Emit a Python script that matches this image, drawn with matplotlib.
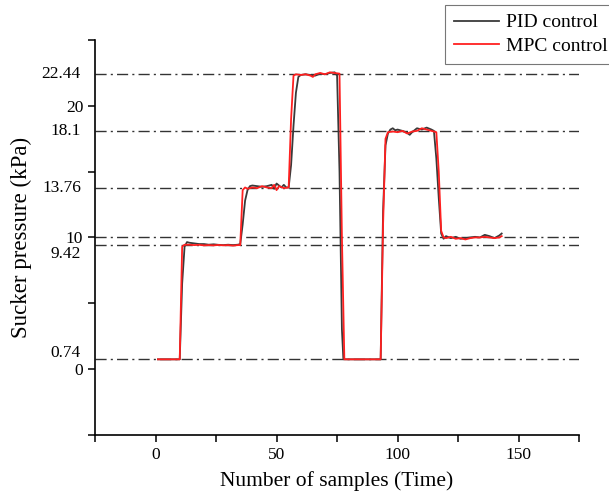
import matplotlib
matplotlib.use('Agg')
import matplotlib.pyplot as plt
from matplotlib.ticker import MultipleLocator

# sample index / pressure (kPa)
pid_t = [1, 10, 11, 12, 13, 14, 16, 18, 20, 22, 24, 26, 28, 30, 32, 34, 35, 36, 37, 38, 39, 40, 42, 44, 46, 48,
         49, 50, 52, 53, 54, 55, 56, 57, 58, 59, 60, 62, 64, 66, 68, 70, 72, 74, 75, 76, 77, 77.6, 80, 93, 94, 95,
         96, 97, 98, 99, 100, 102, 104, 105, 106, 108, 110, 112, 114, 115, 116, 117, 118, 119, 120, 122, 124,
         126, 128, 130, 132, 134, 136, 138, 140, 142, 143]
pid_y = [0.74, 0.74, 6.5, 9.3, 9.65, 9.6, 9.55, 9.5, 9.5, 9.45, 9.48, 9.44, 9.42, 9.45, 9.42, 9.45, 9.5, 11.0,
         12.8, 13.6, 13.9, 13.95, 13.9, 13.85, 13.9, 14.0, 13.7, 14.1, 13.8, 14.0, 13.8, 13.8, 15.5, 18.5, 21.0,
         22.2, 22.35, 22.4, 22.35, 22.3, 22.45, 22.4, 22.5, 22.55, 22.3, 15.0, 3.0, 0.74, 0.74, 0.74, 12.0, 17.0,
         17.9, 18.2, 18.3, 18.15, 18.2, 18.1, 17.95, 17.8, 18.0, 18.3, 18.2, 18.35, 18.2, 18.1, 16.0, 13.0, 10.3,
         9.9, 10.1, 9.95, 10.05, 9.9, 9.95, 10.0, 10.05, 10.0, 10.2, 10.1, 9.95, 10.15, 10.3]

mpc_t = [1, 10, 11, 12, 14, 16, 18, 20, 22, 24, 26, 28, 30, 32, 34, 35, 36, 37, 38, 40, 42, 44, 46, 48, 49, 50,
         51, 53, 55, 56, 57, 58, 60, 62, 64, 65, 66, 68, 70, 72, 74, 76, 77, 78, 80, 93, 94, 95, 96, 98, 100, 102,
         104, 106, 108, 110, 112, 114, 116, 117, 118, 119, 120, 122, 124, 126, 128, 130, 132, 134, 136, 138, 140,
         142, 143]
mpc_y = [0.74, 0.74, 9.3, 9.45, 9.45, 9.42, 9.44, 9.4, 9.42, 9.4, 9.43, 9.4, 9.42, 9.38, 9.42, 9.42, 13.6,
         13.8, 13.7, 13.8, 13.75, 13.9, 13.8, 13.75, 14.0, 13.6, 13.9, 13.75, 13.8, 19.0, 22.3, 22.4, 22.35, 22.4,
         22.3, 22.2, 22.4, 22.5, 22.4, 22.55, 22.5, 22.45, 10.0, 0.74, 0.74, 0.74, 11.0, 17.5, 18.0, 18.05, 18.0,
         18.1, 17.9, 18.05, 18.1, 18.3, 18.2, 18.1, 18.0, 15.0, 10.5, 10.0, 9.95, 10.05, 9.9, 9.95, 9.85, 9.95,
         10.0, 10.0, 10.05, 10.0, 9.95, 10.0, 10.1]

ref_levels = [22.44, 18.1, 13.76, 10, 9.42, 0.74]
extra_labels = ['22.44', '18.1', '13.76', '9.42', '0.74']
extra_vals = [22.44, 18.1, 13.76, 9.42, 0.74]
extra_offsets = [0, 0, 0, -0.7, 0.5]

plt.rcParams['font.family'] = 'Liberation Serif'

fig = plt.figure(figsize=(6.09, 5.01), dpi=100)
ax = fig.add_axes([0.156, 0.132, 0.795, 0.788])

for lv in ref_levels:
    ax.axhline(lv, color='#333333', lw=1.0, ls=(0, (8, 3, 1.5, 3)), zorder=1)

ax.plot(pid_t, pid_y, color='#3a3a3a', lw=1.3, label='PID control', zorder=2)
ax.plot(mpc_t, mpc_y, color='#ff2020', lw=1.3, label='MPC control', zorder=3)

ax.set_xlim(-25, 175)
ax.set_ylim(-5, 25)
ax.xaxis.set_major_locator(MultipleLocator(50))
ax.xaxis.set_minor_locator(MultipleLocator(25))
ax.set_yticks([0, 10, 20])
ax.set_yticks([-5, 5, 15, 25], minor=True)
ax.tick_params(which='both', direction='out', length=5, width=1.1, labelsize=12.5)

for lab, v, off in zip(extra_labels, extra_vals, extra_offsets):
    ax.text(-0.029, v + off, lab, transform=ax.get_yaxis_transform(), ha='right', va='center', fontsize=12.5)

for s in ['top', 'right']:
    ax.spines[s].set_visible(False)
for s in ['left', 'bottom']:
    ax.spines[s].set_linewidth(1.2)

ax.set_xlabel('Number of samples (Time)', fontsize=15.5, labelpad=6)
ax.set_ylabel('Sucker pressure (kPa)', fontsize=16.5, labelpad=24)

leg = fig.legend(loc='upper left', bbox_to_anchor=(0.731, 0.99), borderaxespad=0, fontsize=14, frameon=True,
                 fancybox=False, edgecolor='#555555', handlelength=2.3, borderpad=0.45, labelspacing=0.3,
                 handletextpad=0.36)
leg.get_frame().set_linewidth(0.8)

fig.savefig('out.png', dpi=100)
